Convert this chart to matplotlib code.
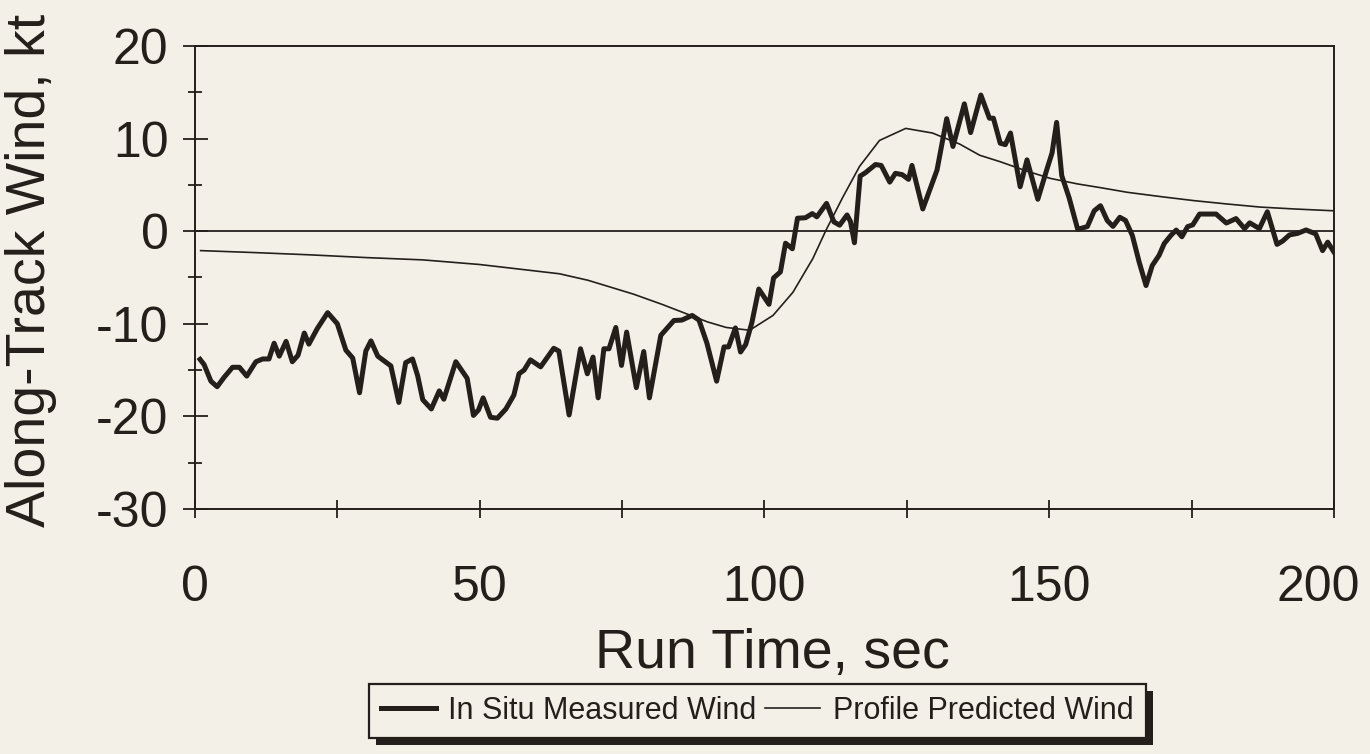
import matplotlib
matplotlib.use('Agg')
import matplotlib.pyplot as plt
from matplotlib.patches import Rectangle
from matplotlib.transforms import IdentityTransform
from matplotlib.ticker import MultipleLocator, FuncFormatter

# In situ measured along-track wind (thick trace)
insitu_t = [0.9, 1.6, 2.8, 3.9, 5.1, 6.6, 7.8, 9.1, 10.7, 11.9,
            13.0, 13.9, 14.8, 16.0, 17.1, 18.1, 19.2, 20.0, 21.5, 23.3,
            25.0, 26.5, 27.7, 28.9, 30.0, 30.9, 32.1, 33.2, 34.4, 35.8,
            37.0, 38.2, 39.1, 40.0, 41.5, 42.9, 43.7, 45.8, 47.8, 48.9,
            49.8, 50.6, 51.9, 53.1, 54.6, 56.0, 56.9, 57.8, 58.9, 60.7,
            63.0, 63.9, 65.7, 67.7, 68.9, 69.9, 70.8, 71.8, 72.7, 73.9,
            74.9, 75.8, 77.5, 78.8, 79.8, 81.8, 84.1, 85.5, 87.3, 88.5,
            89.9, 91.6, 92.9, 93.7, 94.9, 95.8, 96.7, 97.8, 99.0, 100.8,
            101.6, 102.8, 103.7, 104.9, 105.8, 107.2, 108.4, 109.2, 110.9, 112.2,
            113.2, 114.5, 115.1, 115.8, 116.8, 117.7, 119.5, 120.5, 122.0, 123.0,
            124.2, 125.3, 125.9, 127.8, 130.3, 132.0, 133.1, 135.1, 136.2, 138.0,
            139.5, 140.2, 141.4, 142.3, 143.2, 144.9, 146.1, 148.0, 149.6, 150.5,
            151.3, 152.2, 153.5, 155.0, 156.7, 157.9, 159.0, 160.2, 161.2, 162.4,
            163.4, 164.6, 165.8, 167.0, 168.1, 169.3, 170.2, 171.4, 172.3, 173.3,
            174.3, 175.2, 176.4, 179.3, 181.1, 182.8, 184.3, 185.2, 186.9, 188.3,
            190.0, 191.0, 192.2, 193.6, 195.1, 196.8, 198.0, 198.9, 200.0]
insitu_v = [-13.85, -14.4, -16.2, -16.8, -15.8, -14.7, -14.7, -15.65, -14.1, -13.8,
            -13.8, -12.1, -13.5, -11.9, -14.1, -13.4, -11.0, -12.2, -10.5, -8.8,
            -10.0, -12.85, -13.7, -17.45, -12.95, -11.85, -13.5, -14.0, -14.55, -18.5,
            -14.2, -13.8, -15.6, -18.2, -19.2, -17.25, -18.15, -14.1, -15.9, -19.9,
            -19.3, -18.0, -20.1, -20.2, -19.2, -17.7, -15.4, -15.0, -13.9, -14.65,
            -12.65, -12.95, -19.85, -12.7, -15.4, -13.6, -18.0, -12.7, -12.7, -10.4,
            -14.5, -10.9, -16.9, -13.0, -18.0, -11.25, -9.65, -9.6, -9.1, -9.6,
            -12.1, -16.2, -12.5, -12.5, -10.45, -13.05, -12.25, -9.85, -6.25, -7.9,
            -5.05, -4.4, -1.3, -1.9, 1.4, 1.45, 1.9, 1.55, 3.0, 1.0,
            0.65, 1.75, 1.05, -1.25, 5.95, 6.3, 7.2, 7.1, 5.3, 6.25,
            6.1, 5.6, 7.1, 2.4, 6.6, 12.15, 9.15, 13.75, 10.65, 14.7,
            12.2, 12.2, 9.5, 9.35, 10.6, 4.8, 7.7, 3.45, 6.7, 8.45,
            11.75, 6.0, 3.6, 0.2, 0.5, 2.2, 2.75, 1.14, 0.52, 1.5,
            1.16, -0.47, -3.35, -5.87, -3.7, -2.6, -1.33, -0.43, 0.12, -0.6,
            0.49, 0.68, 1.85, 1.85, 0.88, 1.36, 0.28, 0.9, 0.28, 2.1,
            -1.43, -1.06, -0.4, -0.24, 0.13, -0.3, -2.1, -1.19, -2.26]

# Profile predicted wind (thin smooth curve)
profile_t = [1, 10, 20, 30, 40, 50, 57, 64, 69, 77, 82, 86, 90, 93.3, 97.4,
             101.5, 105, 108.5, 110.8, 113.7, 116.7, 120.2, 124.8, 129.5, 134.3,
             137.8, 141.4, 146, 150.2, 155, 159, 163.7, 170, 175.4, 181, 187.1, 193, 200]
profile_v = [-2.1, -2.3, -2.55, -2.85, -3.1, -3.6, -4.1, -4.6, -5.3, -6.8, -7.9, -8.85, -9.8, -10.4, -10.7,
             -9.1, -6.6, -2.95, 0.1, 3.6, 7.0, 9.8, 11.1, 10.6, 9.4,
             8.2, 7.5, 6.5, 5.7, 5.1, 4.7, 4.2, 3.7, 3.3, 2.95, 2.6, 2.4, 2.2]

ink = '#241f1b'
paper = '#f3f1e7'

plt.rcParams['font.family'] = ['Liberation Sans', 'DejaVu Sans']
plt.rcParams['axes.unicode_minus'] = False

fig = plt.figure(figsize=(13.7, 7.54), dpi=100, facecolor=paper)
ax = fig.add_axes([0.1423, 0.325, 0.8314, 0.614])
ax.set_facecolor(paper)

ax.plot(insitu_t, insitu_v, color=ink, lw=3.6, label='In Situ Measured Wind')
ax.plot(profile_t, profile_v, color=ink, lw=1.2, label='Profile Predicted Wind')
ax.axhline(0, color=ink, lw=1.3, zorder=1)

ax.set_xlim(0, 200)
ax.set_ylim(-30, 20)
ax.xaxis.set_major_locator(MultipleLocator(50))
ax.xaxis.set_minor_locator(MultipleLocator(25))
ax.yaxis.set_major_locator(MultipleLocator(10))
ax.yaxis.set_minor_locator(MultipleLocator(5))
# the label at the right end is drawn separately, nudged left to stay on the page
ax.xaxis.set_major_formatter(FuncFormatter(lambda v, p: '' if v >= 200 else f'{v:.0f}'))

for sp in ax.spines.values():
    sp.set_color(ink)
    sp.set_linewidth(1.4)

ax.tick_params(axis='y', which='major', direction='inout', length=18, width=1.3,
               color=ink, labelsize=36, labelcolor=ink, pad=10)
ax.tick_params(axis='y', which='minor', direction='inout', length=10, width=1.3, color=ink)
ax.tick_params(axis='x', which='both', direction='inout', length=13, width=1.3,
               color=ink, labelsize=36, labelcolor=ink, pad=34)

ax.annotate('200', xy=(200, 0), xycoords=ax.get_xaxis_transform(),
            xytext=(-11.5, -40.5), textcoords='offset points',
            ha='center', va='top', fontsize=36, color=ink, annotation_clip=False)

fig.text(0.0225, 0.642, 'Along-Track Wind, kt', rotation=90, ha='center', va='center',
         fontsize=40, color=ink)
fig.text(0.5635, 0.114, 'Run Time, sec', ha='center', va='baseline',
         fontsize=40, color=ink)

leg = fig.legend(loc='center', bbox_to_anchor=(0.5526, 0.057), ncol=2,
                 prop={'size': 22},
                 fancybox=False, edgecolor=ink, facecolor=paper, framealpha=1,
                 handlelength=1.8, handletextpad=0.4, columnspacing=0.3, borderpad=0.4)
leg.get_frame().set_linewidth(1.6)
for txt in leg.get_texts():
    txt.set_color(ink)

# hard drop shadow under the legend box
fig.canvas.draw()
bb = leg.get_window_extent()
fig.add_artist(Rectangle((bb.x0 + 7, bb.y0 - 7), bb.width, bb.height,
                         transform=IdentityTransform(), facecolor=ink,
                         edgecolor='none', zorder=4))

fig.savefig('out.png', dpi=100, facecolor=paper)
